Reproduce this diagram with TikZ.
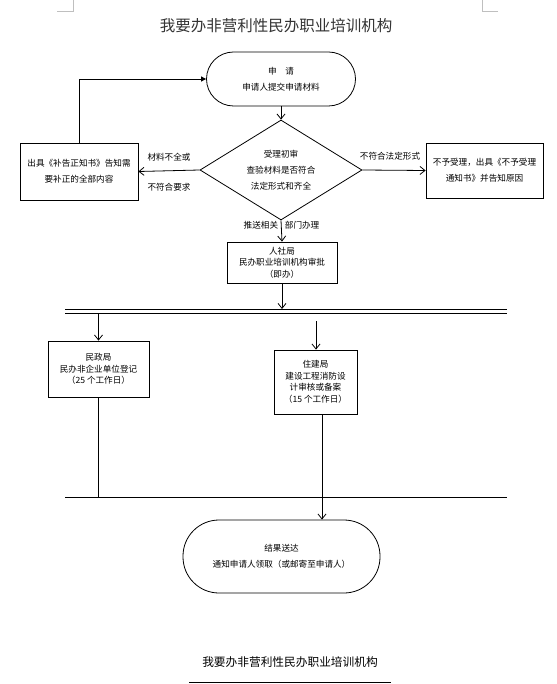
\documentclass[tikz,border=0pt]{standalone}
\usepackage{fontspec}
\setmainfont{Noto Sans CJK SC}
\usetikzlibrary{arrows.meta,shapes.geometric}

\begin{document}
\begin{tikzpicture}[x=1pt,y=-1pt,
  every node/.style={inner sep=0pt},
  box/.style={draw,line width=0.8pt,align=center,font=\fontsize{8.6pt}{11.5pt}\selectfont},
  wide/.style={draw,line width=0.8pt,align=center,font=\fontsize{8.6pt}{16pt}\selectfont},
  arr/.style={-{Straight Barb[length=5pt,width=8pt]},line width=0.8pt},
  lab/.style={font=\fontsize{8.6pt}{10pt}\selectfont}]

\useasboundingbox (0,0) rectangle (556,684);

\draw[black!25,line width=0.6pt] (57,11)--(73,11)--(73,0);
\draw[black!25,line width=0.6pt] (498,11)--(482,11)--(482,0);

\node[font=\fontsize{15.5pt}{18pt}\selectfont,text=black!80] (title) at (276,26) {我要办非营利性民办职业培训机构};

\node[wide,minimum width=149pt,minimum height=54pt,rounded corners=27pt] (start) at (281,79) {申\quad 请\\申请人提交申请材料};
\node[wide,diamond,aspect=1.6,minimum width=162pt,minimum height=100pt] (check) at (281,170) {受理初审\\查验材料是否符合\\法定形式和齐全};
\node[wide,minimum width=118pt,minimum height=57pt] (fix) at (79,171.5) {出具《补告正知书》告知需\\要补正的全部内容};
\node[wide,minimum width=117pt,minimum height=55pt] (reject) at (484.5,170.5) {不予受理，出具《不予受理\\通知书》并告知原因};
\node[box,minimum width=110pt,minimum height=41pt] (rsj) at (282,262.5) {人社局\\民办职业培训机构审批\\（即办）};
\node[box,minimum width=101pt,minimum height=56pt] (mzj) at (98.5,369) {民政局\\民办非企业单位登记\\（25 个工作日）};
\node[box,minimum width=83pt,minimum height=64pt] (zjj) at (315.5,382) {住建局\\建设工程消防设\\计审核或备案\\（15 个工作日）};
\node[wide,minimum width=197pt,minimum height=73pt,rounded corners=36pt] (result) at (281.5,556.5) {结果送达\\通知申请人领取（或邮寄至申请人）};

\coordinate (busA) at (65,309);
\coordinate (busB) at (507,309);
\coordinate (busC) at (65,313);
\coordinate (busD) at (507,313);
\coordinate (joinA) at (65,497);
\coordinate (joinB) at (507,497);
\coordinate (zjIn) at (316,321);
\coordinate (zjOut) at (322,414);

\draw[line width=0.8pt] (busA)--(busB);
\draw[line width=0.8pt] (busC)--(busD);
\draw[line width=0.8pt] (joinA)--(joinB);

\draw[arr] (start.south)--(check.north);
\draw[arr] (check.west)--(fix.east)
  node[lab,midway,yshift=14pt]{材料不全或}
  node[lab,midway,yshift=-16pt]{不符合要求};
\draw[line width=0.8pt,-{Triangle[length=5pt,width=5pt]}] (fix.north) |- (start.west);
\draw[arr] (check.east)--(reject.west)
  node[lab,midway,yshift=14pt,xshift=-4pt]{不符合法定形式};
\draw[arr] (check.south)--(rsj.north)
  node[lab,midway,anchor=east,yshift=6pt,xshift=-3pt]{推送相关}
  node[lab,midway,anchor=west,yshift=6pt,xshift=3pt]{部门办理};
\draw[arr] (rsj.south)--(rsj.south |- busA);
\draw[arr] (mzj.north |- busC)--(mzj.north);
\draw[arr] (zjIn)--(zjIn |- zjj.north);
\draw[line width=0.8pt] (mzj.south)--(mzj.south |- joinA);
\draw[arr] (zjOut)--(zjOut |- result.north);

\node[font=\fontsize{11.7pt}{14pt}\selectfont] (foot) at (290,662) {我要办非营利性民办职业培训机构};
\draw[line width=0.8pt] (189,682)--(391,682);

\end{tikzpicture}
\end{document}
